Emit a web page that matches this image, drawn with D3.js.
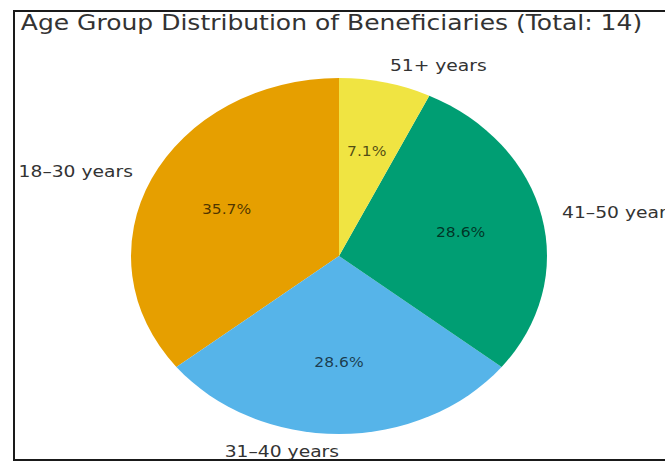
<!DOCTYPE html>
<html>
<head>
<meta charset="utf-8">
<script src="https://cdn.jsdelivr.net/npm/d3@7"></script>
<style>
  html, body { margin: 0; padding: 0; background: #fff; }
  svg { display: block; }
  text { font-family: "DejaVu Sans", sans-serif; }
</style>
</head>
<body>
<svg id="chart" width="665" height="462"></svg>
<script>
// Beneficiaries by age group
const categories = ["18\u201330 years", "31\u201340 years", "41\u201350 years", "51+ years"];
const counts = [5, 4, 4, 1];
const colors = ["#E69F00", "#56B4E9", "#009E73", "#F0E442"];
const titleText = "Age Group Distribution of Beneficiaries (Total: 14)";

const W = 665, H = 462;
const sx = 208 / 178;          // horizontal stretch of the figure
const cx = 339, cy = 256;      // pie centre (screen px)
const r = 178;                 // pie radius (vertical, px)

const svg = d3.select("#chart");
svg.append("rect").attr("width", W).attr("height", H).attr("fill", "#fff");

const total = d3.sum(counts);
const data = categories.map((c, i) => ({ label: c, value: counts[i], color: colors[i] }));

// Wedges run counter-clockwise from 12 o'clock
const pie = d3.pie().value(d => d.value).sort(null).startAngle(0).endAngle(-2 * Math.PI);
const arcs = pie(data);
const arc = d3.arc().innerRadius(0).outerRadius(r);

const stage = svg.append("g").attr("transform", `scale(${sx},1)`);
const g = stage.append("g").attr("transform", `translate(${cx / sx},${cy})`);

g.selectAll("path.slice")
  .data(arcs)
  .join("path")
  .attr("class", "slice")
  .attr("d", arc)
  .attr("fill", d => d.data.color);

const mid = d => (d.startAngle + d.endAngle) / 2;

// Category labels just outside the rim
g.selectAll("text.cat")
  .data(arcs)
  .join("text")
  .attr("class", "cat")
  .each(function (d) {
    const a = mid(d);
    const x = Math.sin(a) * r * 1.1;
    const y = -Math.cos(a) * r * 1.1;
    d3.select(this)
      .attr("x", x)
      .attr("y", y)
      .attr("text-anchor", x > 1e-6 ? "start" : "end");
  })
  .attr("dominant-baseline", "central")
  .attr("font-size", 16)
  .attr("fill", "#333")
  .text(d => d.data.label);

// Percentage labels inside the wedges
g.selectAll("text.pct")
  .data(arcs)
  .join("text")
  .attr("class", "pct")
  .attr("x", d => Math.sin(mid(d)) * r * 0.6)
  .attr("y", d => -Math.cos(mid(d)) * r * 0.6)
  .attr("text-anchor", "middle")
  .attr("dominant-baseline", "central")
  .attr("font-size", 13.3)
  .attr("fill", "#000")
  .attr("fill-opacity", 0.68)
  .text(d => (d.data.value / total * 100).toFixed(1) + "%");

// Title
stage.append("text")
  .attr("x", 331.5 / sx)
  .attr("y", 30)
  .attr("text-anchor", "middle")
  .attr("font-size", 21.4)
  .attr("fill", "#333")
  .text(titleText);

// Frame
svg.append("path")
  .attr("d", `M${W},11 H14 V460 H${W}`)
  .attr("fill", "none")
  .attr("stroke", "#1a1a1a")
  .attr("stroke-width", 2);
</script>
</body>
</html>
